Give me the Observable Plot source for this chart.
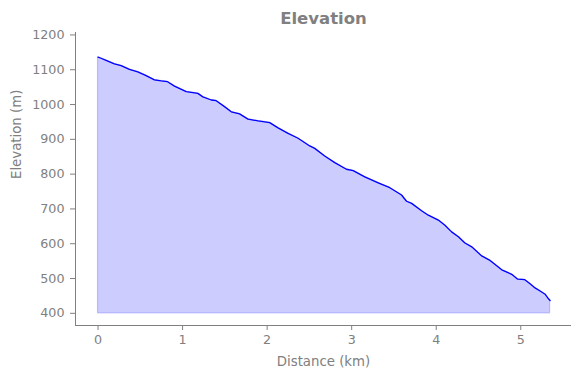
<!DOCTYPE html>
<html><head><meta charset="utf-8">
<script src="https://cdn.jsdelivr.net/npm/d3@7"></script>
<script src="https://cdn.jsdelivr.net/npm/@observablehq/plot@0.6"></script>
<style>body{margin:0;background:#fff}</style>
</head><body><div id="chart"></div>
<script>
const distanceKm = [0, 0.036, 0.095, 0.193, 0.273, 0.371, 0.470, 0.569, 0.667, 0.746, 0.818, 0.904, 1.043, 1.181, 1.240, 1.339, 1.398, 1.496, 1.576, 1.674, 1.774, 1.892, 2.030, 2.129, 2.248, 2.366, 2.504, 2.563, 2.681, 2.800, 2.938, 3.018, 3.155, 3.314, 3.451, 3.590, 3.649, 3.709, 3.827, 3.906, 4.025, 4.103, 4.182, 4.262, 4.340, 4.420, 4.538, 4.636, 4.656, 4.775, 4.893, 4.964, 5.044, 5.110, 5.169, 5.229, 5.288, 5.330, 5.347];
const elevationM = [1136, 1133, 1127, 1117, 1112, 1101, 1094, 1083, 1071, 1068, 1066, 1053, 1037, 1032, 1022, 1013, 1011, 994, 979, 973, 958, 953, 948, 933, 917, 903, 881, 874, 852, 833, 814, 810, 792, 775, 761, 740, 722, 716, 695, 682, 668, 653, 634, 620, 602, 591, 565, 552, 548, 525, 512, 498, 497, 485, 473, 464, 455, 441, 437];
const xTicks = [0, 1, 2, 3, 4, 5];
const yTicks = [400, 500, 600, 700, 800, 900, 1000, 1100, 1200];
const xDomain = [-0.2665, 5.6];
const yDomain = [365, 1207];
const baseline = 400;
const titleText = "Elevation";
const xLabel = "Distance (km)";
const yLabel = "Elevation (m)";

const data = distanceKm.map((d, i) => ({d, e: elevationM[i]}));
const gray = "#808080";
const fmt = (v) => String(v);

const chart = Plot.plot({
  width: 580, height: 378,
  marginLeft: 75, marginRight: 9, marginTop: 32, marginBottom: 53,
  style: {fontFamily: "DejaVu Sans", fontSize: "12.7px", color: gray, background: "white"},
  x: {domain: xDomain},
  y: {domain: yDomain},
  marks: [
    Plot.areaY(data, {x: "d", y1: baseline, y2: "e", fill: "blue", fillOpacity: 0.2, stroke: "blue", strokeOpacity: 0.2, strokeWidth: 1.2}),
    Plot.lineY(data, {x: "d", y: "e", stroke: "blue", strokeWidth: 1.3}),
    Plot.ruleX([xDomain[0]], {stroke: gray, strokeWidth: 1}),
    Plot.ruleY([yDomain[0]], {stroke: gray, strokeWidth: 1}),
    Plot.axisX({ticks: xTicks, tickFormat: fmt, tickSize: 5, tickPadding: 4, label: null}),
    Plot.axisY({ticks: yTicks, tickFormat: fmt, tickSize: 5, tickPadding: 6, label: null}),
    Plot.text([xLabel], {frameAnchor: "bottom", dy: 36, lineAnchor: "middle", fill: gray, fontSize: 13.3}),
    Plot.text([yLabel], {frameAnchor: "left", dx: -59, rotate: -90, lineAnchor: "middle", fill: gray, fontSize: 13.3}),
    Plot.text([titleText], {frameAnchor: "top", dy: -14, lineAnchor: "middle", fill: gray, fontSize: 16.5, fontWeight: "bold"})
  ]
});
document.getElementById("chart").appendChild(chart);
</script>
</body></html>
